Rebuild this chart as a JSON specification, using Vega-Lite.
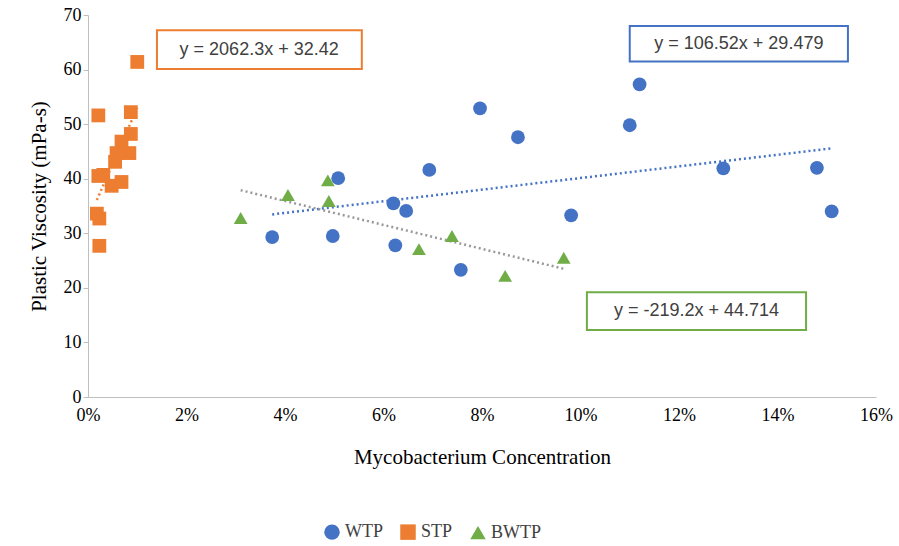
{
  "$schema": "https://vega.github.io/schema/vega-lite/v6.json",
  "width": 788,
  "height": 382,
  "autosize": "none",
  "padding": {"left": 88, "top": 15, "right": 23, "bottom": 149},
  "background": "white",
  "datasets": {
    "pts": [
      {"series": "WTP", "x": 0.0374, "y": 29.3}, {"series": "WTP", "x": 0.0508, "y": 40.1},
      {"series": "WTP", "x": 0.0497, "y": 29.5}, {"series": "WTP", "x": 0.062, "y": 35.5},
      {"series": "WTP", "x": 0.0624, "y": 27.8}, {"series": "WTP", "x": 0.0646, "y": 34.1},
      {"series": "WTP", "x": 0.0693, "y": 41.6}, {"series": "WTP", "x": 0.0757, "y": 23.3},
      {"series": "WTP", "x": 0.0796, "y": 52.9}, {"series": "WTP", "x": 0.0873, "y": 47.6},
      {"series": "WTP", "x": 0.0981, "y": 33.3}, {"series": "WTP", "x": 0.110, "y": 49.8},
      {"series": "WTP", "x": 0.112, "y": 57.3}, {"series": "WTP", "x": 0.129, "y": 41.9},
      {"series": "WTP", "x": 0.148, "y": 42.0}, {"series": "WTP", "x": 0.151, "y": 34.0},
      {"series": "STP", "x": 0.0100, "y": 61.4}, {"series": "STP", "x": 0.0021, "y": 51.6},
      {"series": "STP", "x": 0.0087, "y": 52.2}, {"series": "STP", "x": 0.0087, "y": 48.2},
      {"series": "STP", "x": 0.0068, "y": 46.8}, {"series": "STP", "x": 0.0084, "y": 44.7},
      {"series": "STP", "x": 0.0058, "y": 44.7}, {"series": "STP", "x": 0.0055, "y": 43.1},
      {"series": "STP", "x": 0.0031, "y": 40.7}, {"series": "STP", "x": 0.0021, "y": 40.5},
      {"series": "STP", "x": 0.0068, "y": 39.4}, {"series": "STP", "x": 0.0048, "y": 38.7},
      {"series": "STP", "x": 0.0018, "y": 33.6}, {"series": "STP", "x": 0.0023, "y": 32.7},
      {"series": "STP", "x": 0.0023, "y": 27.7},
      {"series": "BWTP", "x": 0.031, "y": 32.8}, {"series": "BWTP", "x": 0.0406, "y": 37.0},
      {"series": "BWTP", "x": 0.0487, "y": 39.7}, {"series": "BWTP", "x": 0.0489, "y": 35.9},
      {"series": "BWTP", "x": 0.0672, "y": 27.1}, {"series": "BWTP", "x": 0.0739, "y": 29.5},
      {"series": "BWTP", "x": 0.0847, "y": 22.2}, {"series": "BWTP", "x": 0.0966, "y": 25.5}
    ],
    "trend": [
      {"series": "WTP", "x": 0.0374, "y": 33.46}, {"series": "WTP", "x": 0.151, "y": 45.56},
      {"series": "STP", "x": 0.0018, "y": 36.1}, {"series": "STP", "x": 0.0100, "y": 53.0},
      {"series": "BWTP", "x": 0.031, "y": 37.9}, {"series": "BWTP", "x": 0.0966, "y": 23.5}
    ],
    "boxes": [
      {"series": "STP", "x": 0.014, "x2": 0.0556, "y": 67.2, "y2": 60.1, "tx": 0.03475, "ty": 63.6, "label": "y = 2062.3x + 32.42"},
      {"series": "WTP", "x": 0.110, "x2": 0.1543, "y": 68.0, "y2": 61.5, "tx": 0.13215, "ty": 64.7, "label": "y = 106.52x + 29.479"},
      {"series": "BWTP", "x": 0.1013, "x2": 0.1458, "y": 19.2, "y2": 12.3, "tx": 0.12355, "ty": 15.7, "label": "y = -219.2x + 44.714"}
    ]
  },
  "layer": [
    {
      "data": {"name": "trend"},
      "mark": {"type": "line", "strokeDash": [2, 3], "strokeWidth": 2.5},
      "encoding": {
        "x": {"field": "x", "type": "quantitative"},
        "y": {"field": "y", "type": "quantitative"},
        "detail": {"field": "series"},
        "stroke": {"field": "series", "type": "nominal", "scale": {"domain": ["WTP", "STP", "BWTP"], "range": ["#4472C4", "#ED7D31", "#999999"]}, "legend": null}
      }
    },
    {
      "data": {"name": "pts"},
      "mark": {"type": "point", "filled": true, "opacity": 1, "size": 190},
      "encoding": {
        "x": {"field": "x", "type": "quantitative", "scale": {"domain": [0, 0.16], "nice": false}, "axis": {"format": "%", "values": [0, 0.02, 0.04, 0.06, 0.08, 0.1, 0.12, 0.14, 0.16], "labelOverlap": false, "labelFlush": false, "grid": false, "title": "Mycobacterium Concentration", "labelFontSize": 18, "titleFontSize": 21, "titlePadding": 22, "ticks": false, "labelPadding": 9}},
        "y": {"field": "y", "type": "quantitative", "scale": {"domain": [0, 70], "nice": false}, "axis": {"values": [0, 10, 20, 30, 40, 50, 60, 70], "grid": false, "title": "Plastic Viscosity (mPa-s)", "labelFontSize": 18, "titleFontSize": 21, "titlePadding": 14}},
        "fill": {"field": "series", "type": "nominal", "scale": {"domain": ["WTP", "STP", "BWTP"], "range": ["#4472C4", "#ED7D31", "#70AD47"]}, "legend": {"title": null, "orient": "none", "legendX": 235, "legendY": 508, "direction": "horizontal", "labelFontSize": 18, "symbolSize": 240, "columnPadding": 14}},
        "shape": {"field": "series", "type": "nominal", "scale": {"domain": ["WTP", "STP", "BWTP"], "range": ["circle", "square", "triangle-up"]}}
      }
    },
    {
      "data": {"name": "boxes"},
      "mark": {"type": "rect", "fill": "white", "strokeWidth": 2},
      "encoding": {
        "x": {"field": "x", "type": "quantitative"},
        "x2": {"field": "x2"},
        "y": {"field": "y", "type": "quantitative"},
        "y2": {"field": "y2"},
        "stroke": {"field": "series", "type": "nominal", "scale": {"domain": ["WTP", "STP", "BWTP"], "range": ["#4472C4", "#ED7D31", "#70AD47"]}, "legend": null}
      }
    },
    {
      "data": {"name": "boxes"},
      "mark": {"type": "text", "font": "Liberation Sans", "fontSize": 18, "color": "#404040"},
      "encoding": {
        "x": {"field": "tx", "type": "quantitative"},
        "y": {"field": "ty", "type": "quantitative"},
        "text": {"field": "label"}
      }
    }
  ],
  "resolve": {"scale": {"stroke": "independent"}},
  "config": {
    "font": "Liberation Serif",
    "view": {"stroke": null},
    "axis": {"domainColor": "#bfbfbf", "tickColor": "#bfbfbf", "labelColor": "#000", "titleColor": "#000", "labelFont": "Liberation Serif", "titleFont": "Liberation Serif", "titleFontWeight": "normal"},
    "legend": {"labelFont": "Liberation Serif", "labelColor": "#404040"}
  }
}
